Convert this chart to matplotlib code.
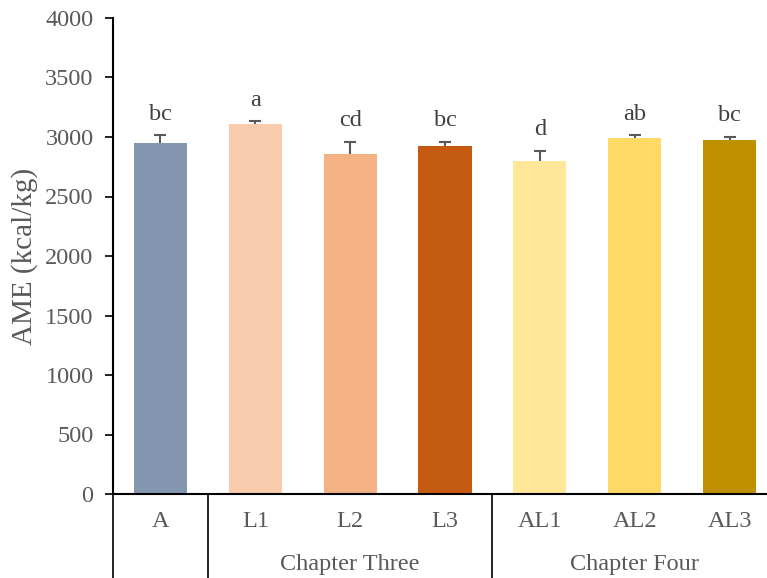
import numpy as np
import matplotlib.pyplot as plt

# data
treatments = ['A', 'L1', 'L2', 'L3', 'AL1', 'AL2', 'AL3']
ame = [2950, 3110, 2860, 2925, 2800, 2992, 2975]
sem = [65, 22, 100, 36, 84, 22, 28]
letters = ['bc', 'a', 'cd', 'bc', 'd', 'ab', 'bc']
groups = ['Chapter Three', 'Chapter Four']
group_members = [[1, 2, 3], [4, 5, 6]]
colors = ['#8497B0', '#F8CBAD', '#F4B183', '#C55A11', '#FFE699', '#FFD966', '#BF9000']

plt.rcParams['font.family'] = ['Liberation Serif', 'DejaVu Serif']
txt = '#595959'
fs = 17.5

fig = plt.figure(figsize=(7.67, 5.78), dpi=100)
ax = fig.add_axes([113 / 767, 84 / 578, 664 / 767, 476 / 578])

x = np.arange(len(treatments))
# error bars sit behind the bars so only the upper half shows
ax.errorbar(x, ame, yerr=sem, fmt='none',
            ecolor=txt, elinewidth=1.5, capsize=4, capthick=1.5, zorder=1)
ax.bar(x, ame, width=0.56, color=colors, zorder=2)

for xi, v, e, s in zip(x, ame, sem, letters):
    ax.text(xi, v + e + 90, s, ha='center', va='bottom', fontsize=fs, color='#404040')

ax.set_xlim(-0.5, 6.5)
ax.set_ylim(0, 4000)
ax.set_yticks(np.arange(0, 4001, 500))
ax.tick_params(axis='y', labelsize=fs, labelcolor=txt, length=6, width=1.2,
               direction='out', pad=8)
ax.set_xticks([])
ax.set_ylabel('AME (kcal/kg)', fontsize=21, color=txt, labelpad=5)

for side in ['top', 'right']:
    ax.spines[side].set_visible(False)
for side in ['left', 'bottom']:
    ax.spines[side].set_color('black')
    ax.spines[side].set_linewidth(1.5)

# category table below the axis
trans = ax.get_xaxis_transform()
for xi, lab in zip(x, treatments):
    ax.text(xi, -0.057, lab, transform=trans, ha='center', va='center',
            fontsize=fs, color=txt)
for g, mem in zip(groups, group_members):
    ax.text(np.mean(mem), -0.149, g, transform=trans, ha='center', va='center',
            fontsize=fs, color=txt)
for sep in [-0.5, 0.5, 3.5]:
    ax.plot([sep, sep], [0, -0.2], transform=trans, color='black', lw=1.2, clip_on=False)

fig.savefig('out.png', dpi=100)
